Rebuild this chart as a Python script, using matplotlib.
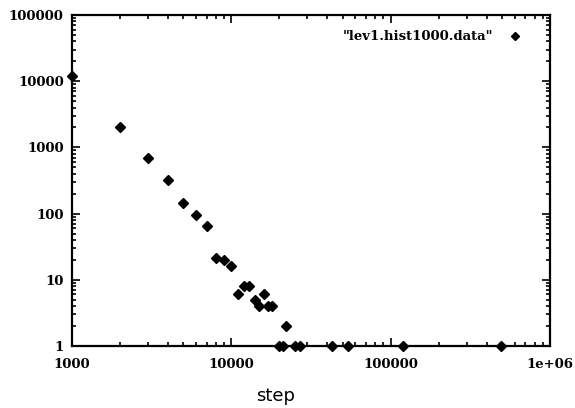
import matplotlib
matplotlib.use("Agg")
import matplotlib.pyplot as plt
from matplotlib.ticker import LogLocator, FixedLocator, FixedFormatter, NullFormatter

steps = [1000, 2000, 3000, 4000, 5000, 6000, 7000, 8000, 9000, 10000,
         11000, 12000, 13000, 14000, 15000, 16000, 17000, 18000,
         20000, 21000, 22000, 25000, 27000, 43000, 54000, 120000, 490000]
counts = [12000, 2000, 700, 320, 146, 96, 66, 21, 20, 16,
          6, 8, 8, 5, 4, 6, 4, 4,
          1, 1, 2, 1, 1, 1, 1, 1, 1]

xticks = [1000, 10000, 100000, 1000000]
xticklabels = ["1000", "10000", "100000", "1e+06"]
yticks = [1, 10, 100, 1000, 10000, 100000]
yticklabels = ["1", "10", "100", "1000", "10000", "100000"]
legend_label = '"lev1.hist1000.data"'
xlabel = "step"

fig = plt.figure(figsize=(5.75, 4.08), dpi=100)
ax = fig.add_axes([72/575, 1-346/408, (550-72)/575, (346-15)/408])
ax.set_xscale("log")
ax.set_yscale("log")
ax.set_xlim(1000, 1e6)
ax.set_ylim(1, 1e5)

ax.plot(steps, counts, linestyle="none", marker="D", markersize=5.5,
        color="black", label=legend_label, clip_on=False, zorder=5)

tickfont = dict(family="DejaVu Serif", weight="bold", size=9.5)
ax.xaxis.set_major_locator(FixedLocator(xticks))
ax.xaxis.set_major_formatter(FixedFormatter(xticklabels))
ax.yaxis.set_major_locator(FixedLocator(yticks))
ax.yaxis.set_major_formatter(FixedFormatter(yticklabels))
ax.xaxis.set_minor_locator(LogLocator(base=10, subs=range(2, 10)))
ax.yaxis.set_minor_locator(LogLocator(base=10, subs=range(2, 10)))
ax.xaxis.set_minor_formatter(NullFormatter())
ax.yaxis.set_minor_formatter(NullFormatter())
for lab in ax.get_xticklabels() + ax.get_yticklabels():
    lab.set_fontfamily(tickfont["family"])
    lab.set_fontweight(tickfont["weight"])
    lab.set_fontsize(tickfont["size"])

ax.tick_params(which="both", direction="in", top=True, right=True, width=1.2, color="black")
ax.tick_params(which="major", length=6)
ax.tick_params(axis="x", which="major", pad=9)
ax.tick_params(axis="y", which="major", pad=6)
ax.tick_params(which="minor", length=3)
for s in ax.spines.values():
    s.set_linewidth(1.6)

fig.text(276/575, 1-396/408, xlabel, ha="center", va="center",
         fontsize=13, family="DejaVu Sans")

leg = ax.legend(loc="upper right", frameon=False, markerfirst=False,
                handletextpad=0.6, borderaxespad=0.0, markerscale=0.7,
                bbox_to_anchor=(533/575, 1-25/408), bbox_transform=fig.transFigure,
                prop=dict(family="DejaVu Serif", weight="bold", size=9.5))

fig.savefig("out.png", dpi=100)
